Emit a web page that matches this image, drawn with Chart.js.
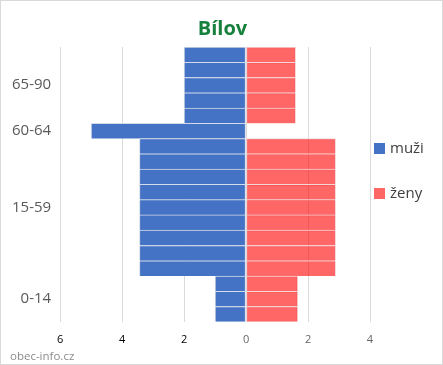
<!DOCTYPE html>
<html>
<head>
<meta charset="utf-8">
<script src="https://cdn.jsdelivr.net/npm/chart.js@4"></script>
<style>
  html, body { margin: 0; padding: 0; background: #fff; }
  #wrap { position: relative; width: 441px; height: 363px; border: 1px solid #d9d9d9; }
  #legend { position: absolute; left: 373px; top: 0; font-family: "Open Sans", sans-serif; font-size: 15px; color: #404040; }
  #legend div { position: absolute; white-space: nowrap; line-height: 18px; }
  #legend span { display: inline-block; width: 11px; height: 11px; margin-right: 5px; vertical-align: -1px; }
  #footer { position: absolute; left: 9px; top: 347px; font-family: "Open Sans", sans-serif; font-size: 11.5px; color: #8c8c8c; }
</style>
</head>
<body>
<div id="wrap">
  <canvas id="pyramid" width="441" height="363"></canvas>
  <div id="legend"></div>
  <div id="footer">obec-info.cz</div>
</div>
<script>
// one row per bar, top to bottom; age label only on the middle row of each group
const rowLabels = ['', '', '65-90', '', '', '60-64', '', '', '', '', '15-59', '', '', '', '', '', '0-14', ''];

const muzi = [2, 2, 2, 2, 2, 5, 3.44, 3.44, 3.44, 3.44, 3.44, 3.44, 3.44, 3.44, 3.44, 1, 1, 1];
const zeny = [1.6, 1.6, 1.6, 1.6, 1.6, 0, 2.89, 2.89, 2.89, 2.89, 2.89, 2.89, 2.89, 2.89, 2.89, 1.67, 1.67, 1.67];

const xTicks = [-6, -4, -2, 0, 2, 4];

const ctx = document.getElementById('pyramid').getContext('2d');

const chart = new Chart(ctx, {
  type: 'bar',
  data: {
    labels: rowLabels,
    datasets: [
      {
        label: 'muži',
        data: muzi.map(v => -v),
        backgroundColor: '#4472C4',
        borderColor: '#d3dbea',
        borderWidth: { top: 1, right: 1, bottom: 0, left: 1 },
        borderSkipped: false,
        barPercentage: 1,
        categoryPercentage: 1
      },
      {
        label: 'ženy',
        data: zeny,
        backgroundColor: 'rgba(255, 0, 0, 0.6)',
        borderColor: '#f3d6d6',
        borderWidth: { top: 1, right: 1, bottom: 0, left: 1 },
        borderSkipped: false,
        barPercentage: 1,
        categoryPercentage: 1
      }
    ]
  },
  options: {
    indexAxis: 'y',
    responsive: false,
    animation: false,
    layout: { padding: { left: 2, right: 0, top: 0, bottom: 7 } },
    plugins: {
      title: {
        display: true,
        text: 'Bílov',
        color: '#17803d',
        font: { family: '"Open Sans", sans-serif', size: 20, weight: 'bold' },
        padding: { top: 16, bottom: 6 }
      },
      legend: { display: false },
      tooltip: { enabled: false }
    },
    scales: {
      x: {
        stacked: true,
        min: -6,
        max: 4,
        afterBuildTicks: axis => { axis.ticks = xTicks.map(v => ({ value: v })); },
        grid: { color: '#d9d9d9', drawTicks: false },
        border: { display: false },
        ticks: {
          padding: 11,
          callback: v => Math.abs(v),
          color: c => (c.tick && c.tick.value < 0 ? '#000' : '#666'),
          font: { family: '"Open Sans", sans-serif', size: 11 }
        }
      },
      y: {
        stacked: true,
        grid: { display: false, drawTicks: false },
        border: { display: false },
        ticks: {
          autoSkip: false,
          padding: 9,
          color: '#595959',
          font: { family: '"Open Sans", sans-serif', size: 15 }
        }
      },
      // empty axis that keeps room for the legend on the right
      legendSpace: {
        axis: 'y',
        position: 'right',
        grid: { display: false, drawTicks: false },
        border: { display: false },
        ticks: { display: false },
        afterFit: axis => { axis.width = 72; }
      }
    }
  }
});

// legend built from the chart's own datasets
const legendTops = [137, 182];
const legendEl = document.getElementById('legend');
chart.data.datasets.forEach((ds, i) => {
  const item = document.createElement('div');
  item.style.top = legendTops[i] + 'px';
  item.innerHTML = '<span style="background:' + ds.backgroundColor + '"></span>' + ds.label;
  legendEl.appendChild(item);
});
</script>
</body>
</html>
